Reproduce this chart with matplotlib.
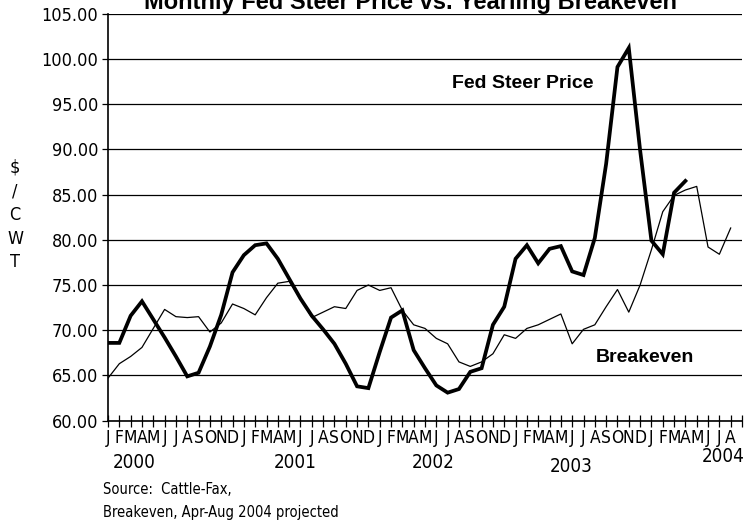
import numpy as np
import matplotlib.pyplot as plt
from matplotlib import font_manager
from matplotlib.font_manager import FontProperties

# monthly series, Jan 2000 .. Aug 2004
fed_steer = [68.6, 68.6, 71.6, 73.2, 71.2, 69.2, 67.1, 64.9, 65.3, 68.2, 71.7, 76.4,
             78.3, 79.4, 79.6, 77.9, 75.7, 73.5, 71.6, 70.1, 68.5, 66.3, 63.8, 63.6,
             67.6, 71.4, 72.2, 67.8, 65.8, 63.9, 63.1, 63.5, 65.4, 65.8, 70.6, 72.6,
             77.9, 79.4, 77.4, 79.0, 79.3, 76.5, 76.1, 80.2, 88.4, 99.1, 101.2, 89.9,
             79.9, 78.4, 85.2, 86.5]
breakeven = [64.7, 66.3, 67.1, 68.1, 70.2, 72.3, 71.5, 71.4, 71.5, 69.8, 70.8, 72.9,
             72.4, 71.7, 73.6, 75.2, 75.4, 73.5, 71.4, 72.0, 72.6, 72.4, 74.4, 75.0,
             74.4, 74.7, 72.2, 70.6, 70.2, 69.1, 68.5, 66.5, 66.0, 66.5, 67.4, 69.5,
             69.1, 70.2, 70.6, 71.2, 71.8, 68.5, 70.1, 70.6, 72.6, 74.5, 72.0, 75.0,
             78.9, 83.1, 84.9, 85.5, 85.9, 79.2, 78.4, 81.3]
month_letters = list("JFMAMJJASOND") * 4 + list("JFMAMJJA")
years = ["2000", "2001", "2002", "2003", "2004"]
year_pos = [(134, 462), (295, 462), (433, 462), (571, 466), (723, 456)]

# look for a narrow/condensed face for the axis text
narrow_path = None
for f in font_manager.fontManager.ttflist:
    n = (f.fname + f.name).lower()
    if ('narrow' in n or 'condensed' in n) and f.weight in (400, 'normal') \
            and f.style == 'normal' and 'mono' not in n and 'serif' not in n.replace('sans', ''):
        narrow_path = f.fname
        break

def nfont(size):
    if narrow_path:
        return FontProperties(fname=narrow_path, size=size)
    return FontProperties(family=['Liberation Sans', 'DejaVu Sans'], size=size * 0.85)

W, H = 748, 523
fig = plt.figure(figsize=(W / 100, H / 100), dpi=100)

def fx(px):
    return px / W

def fy(py):
    return 1 - py / H

left, right, top, bottom = 108, 742, 13.6, 420.7
ax = fig.add_axes([fx(left), fy(bottom), fx(right - left), (bottom - top) / H])

x_fed = np.arange(len(fed_steer))
x_be = np.arange(len(breakeven))
ax.plot(x_be, breakeven, color='black', lw=0.9, zorder=3)
ax.plot(x_fed, fed_steer, color='black', lw=2.7, solid_joinstyle='miter', zorder=4)

ax.set_xlim(0, 56)
ax.set_ylim(60, 105)
ax.set_yticks(np.arange(60, 106, 5))
ax.set_yticklabels(['%.2f' % v for v in np.arange(60, 106, 5)])
ax.set_xticks(np.arange(0, 57))
ax.set_xticklabels(month_letters + [''])
for lab in ax.get_yticklabels():
    lab.set_fontproperties(nfont(13))
for lab in ax.get_xticklabels():
    lab.set_fontproperties(nfont(12.5))
ax.tick_params(axis='x', direction='inout', length=8, width=0.9, pad=2)
ax.tick_params(axis='y', direction='out', length=4, width=0.9, pad=3)

ax.grid(axis='y', color='black', lw=0.9)
ax.set_axisbelow(True)
for s in ['top', 'right']:
    ax.spines[s].set_visible(False)
for s in ['left', 'bottom']:
    ax.spines[s].set_linewidth(1.2)

ax.text(36.6, 97.3, 'Fed Steer Price', family=['Liberation Sans', 'DejaVu Sans'],
        fontweight='bold', fontsize=14, ha='center', va='center')
ax.text(47.4, 67.0, 'Breakeven', family=['Liberation Sans', 'DejaVu Sans'],
        fontweight='bold', fontsize=14, ha='center', va='center')

fig.text(fx(410), fy(2), 'Monthly Fed Steer Price vs. Yearling Breakeven',
         family=['Liberation Sans', 'DejaVu Sans'], fontweight='bold', fontsize=17,
         ha='center', va='center')

fig.text(fx(15), fy(215), '\\$\n/\nC\nW\nT', fontproperties=nfont(13),
         ha='center', va='center', linespacing=1.4)

for yr, (px, py) in zip(years, year_pos):
    fig.text(fx(px), fy(py), yr, fontproperties=nfont(13.5), ha='center', va='center')

fig.text(fx(103), fy(490), 'Source:  Cattle-Fax,', fontproperties=nfont(10.5),
         ha='left', va='center')
fig.text(fx(103), fy(513), 'Breakeven, Apr-Aug 2004 projected', fontproperties=nfont(10.5),
         ha='left', va='center')

fig.savefig('out.png', dpi=100)
